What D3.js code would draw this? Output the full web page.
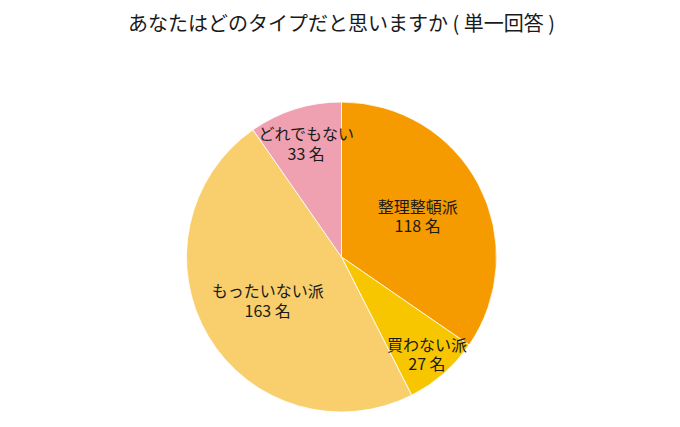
<!DOCTYPE html>
<html>
<head>
<meta charset="utf-8">
<script src="https://cdn.jsdelivr.net/npm/d3@7"></script>
<style>
  body { margin: 0; background: #fff; }
  text { font-family: "Noto Sans CJK JP", "Noto Sans", sans-serif; fill: #1a1a1a; }
</style>
</head>
<body>
<script>
// chart data
var titleText = "あなたはどのタイプだと思いますか ( 単一回答 )";
var categories = ["整理整頓派", "買わない派", "もったいない派", "どれでもない"];
var counts = [118, 27, 163, 33];
var colors = ["#F59B00", "#F8C600", "#F8CF6C", "#F0A1B1"];
var unit = "名";

var width = 680,
    height = 427,
    cx = 341.5,
    cy = 257,
    radius = 155;

var svg = d3.select("body")
    .append("svg")
    .attr("width", width)
    .attr("height", height);

//title
svg.append("text")
    .attr("x", 341.5)
    .attr("y", 31)
    .attr("text-anchor", "middle")
    .style("font-size", "20px")
    .text(titleText);

var pie = d3.pie()
    .sort(null)
    .value(function(d){ return d; });

var arcs = pie(counts);
var total = d3.sum(counts);

var arc = d3.arc()
    .innerRadius(0)
    .outerRadius(radius);

var g = svg.append("g")
    .attr("transform", "translate(" + cx + "," + cy + ")");

g.selectAll(".slice")
    .data(arcs)
    .enter()
    .append("path")
    .attr("class", "slice")
    .attr("d", arc)
    .attr("fill", function(d, i){ return colors[i]; })
    .attr("stroke", "#fff")
    .attr("stroke-width", 0.8);

//small slices get their label pushed outward
function labelArc(d){
    var share = d.value / total;
    var r = share < 0.12 ? radius * (1.18 - 4.33 * share) : radius * 0.555;
    return d3.arc().innerRadius(r).outerRadius(r).centroid(d);
}

var labels = g.selectAll(".label")
    .data(arcs)
    .enter()
    .append("g")
    .attr("class", "label")
    .attr("transform", function(d){
        var p = labelArc(d);
        return "translate(" + p[0] + "," + p[1] + ")";
    });

//two separate lines: name, then count
labels.append("text")
    .attr("text-anchor", "middle")
    .attr("y", -4)
    .style("font-size", "16px")
    .text(function(d, i){ return categories[i]; });

labels.append("text")
    .attr("text-anchor", "middle")
    .attr("y", 15.5)
    .style("font-size", "16px")
    .text(function(d){ return d.value + " " + unit; });
</script>
</body>
</html>
